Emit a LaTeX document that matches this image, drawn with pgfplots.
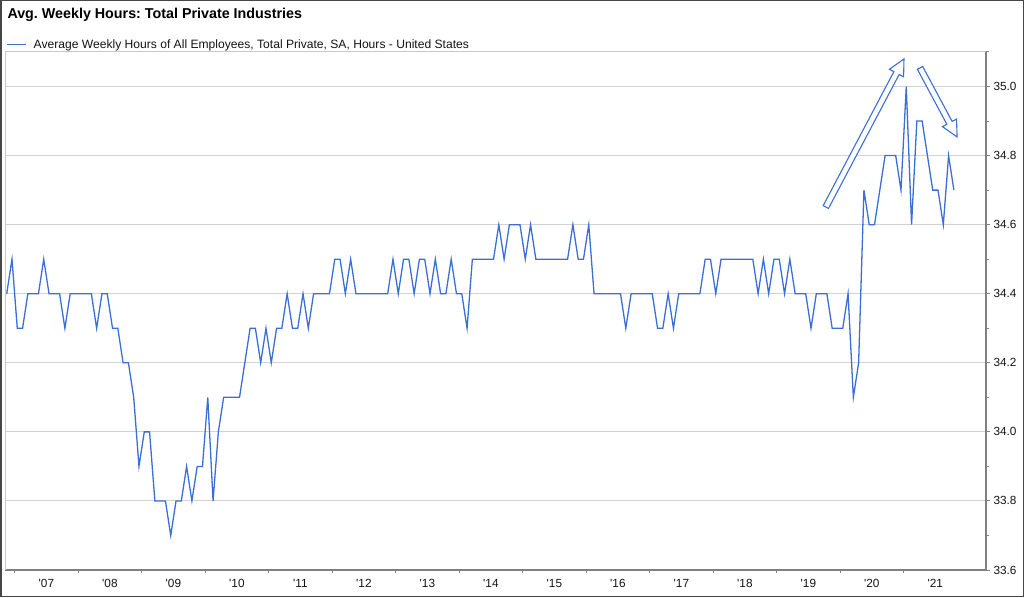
\documentclass[border=0pt]{standalone}
\usepackage{pgfplots}
\pgfplotsset{compat=1.18}
\usepackage{fontspec}
\setmainfont{Liberation Sans}
\frenchspacing
\usetikzlibrary{calc}
\definecolor{lineblue}{RGB}{60,110,215}
\definecolor{gridgray}{RGB}{210,210,210}
\definecolor{axisgray}{RGB}{128,128,128}
\definecolor{framegray}{RGB}{70,70,70}
\definecolor{bordergray}{RGB}{200,200,200}
\definecolor{textgray}{RGB}{20,20,20}
\newcommand{\hollowarrow}[2]{%
  \coordinate (B) at ($(#2)!16pt!(#1)$);
  \draw[lineblue, line width=1.1pt, fill=white, line join=miter]
    ($(#1)!3pt!90:(#2)$) -- ($(B)!3pt!90:(#2)$) -- ($(B)!8pt!90:(#2)$) -- (#2)
    -- ($(B)!8pt!-90:(#2)$) -- ($(B)!3pt!-90:(#2)$) -- ($(#1)!3pt!-90:(#2)$) -- cycle;
}
\begin{document}
\begin{tikzpicture}
\useasboundingbox (0,0) rectangle (1024pt,597pt);
\begin{axis}[
  at={(5pt,27pt)}, anchor=south west,
  scale only axis, width=981pt, height=518pt,
  xmin=-2.32, xmax=183.07, ymin=33.6, ymax=35.1,
  axis x line*=bottom, axis y line*=right,
  axis line style={-, draw=axisgray, line width=1.2pt},
  tick align=outside,
  major tick length=4pt, minor tick length=3pt,
  tick style={draw=axisgray, line width=1pt},
  xtick={5.5,17.5,29.5,41.5,53.5,65.5,77.5,89.5,101.5,113.5,125.5,137.5,149.5,161.5,173.5},
  xticklabels={\textquotesingle07,\textquotesingle08,\textquotesingle09,\textquotesingle10,\textquotesingle11,\textquotesingle12,\textquotesingle13,\textquotesingle14,\textquotesingle15,\textquotesingle16,\textquotesingle17,\textquotesingle18,\textquotesingle19,\textquotesingle20,\textquotesingle21},
  major x tick style={draw=none},
  minor xtick={-0.5,11.5,23.5,35.5,47.5,59.5,71.5,83.5,95.5,107.5,119.5,131.5,143.5,155.5,167.5},
  ytick={33.6,33.8,34.0,34.2,34.4,34.6,34.8,35.0},
  minor ytick={33.7,33.9,34.1,34.3,34.5,34.7,34.9,35.1},
  yticklabel style={/pgf/number format/.cd, fixed, fixed zerofill, precision=1},
  xticklabel style={yshift=-1.5pt},
  /pgf/number format/assume math mode=true,
  ymajorgrids,
  major grid style={draw=gridgray, line width=1pt},
  tick label style={font=\fontsize{11.8}{14}\selectfont, text=textgray},
  legend style={at={(axis description cs:0,1)}, anchor=south west, draw=none, fill=none,
    inner sep=0pt, outer sep=0pt, font=\fontsize{12.1}{14}\selectfont, text=textgray,
    legend cell align=left, xshift=1.5pt, yshift=0pt},
  legend image code/.code={\draw[#1, line width=1pt] (0pt,0pt) -- (19pt,0pt); \path (24pt,0pt);},
]
\addplot[lineblue, line width=1.3pt, mark=none] coordinates {
(-2,34.4) (-1,34.5) (0,34.3) (1,34.3) (2,34.4) (3,34.4) (4,34.4) (5,34.5) (6,34.4) (7,34.4)
(8,34.4) (9,34.3) (10,34.4) (11,34.4) (12,34.4) (13,34.4) (14,34.4) (15,34.3) (16,34.4) (17,34.4)
(18,34.3) (19,34.3) (20,34.2) (21,34.2) (22,34.1) (23,33.9) (24,34.0) (25,34.0) (26,33.8) (27,33.8)
(28,33.8) (29,33.7) (30,33.8) (31,33.8) (32,33.9) (33,33.8) (34,33.9) (35,33.9) (36,34.1) (37,33.8)
(38,34.0) (39,34.1) (40,34.1) (41,34.1) (42,34.1) (43,34.2) (44,34.3) (45,34.3) (46,34.2) (47,34.3)
(48,34.2) (49,34.3) (50,34.3) (51,34.4) (52,34.3) (53,34.3) (54,34.4) (55,34.3) (56,34.4) (57,34.4)
(58,34.4) (59,34.4) (60,34.5) (61,34.5) (62,34.4) (63,34.5) (64,34.4) (65,34.4) (66,34.4) (67,34.4)
(68,34.4) (69,34.4) (70,34.4) (71,34.5) (72,34.4) (73,34.5) (74,34.5) (75,34.4) (76,34.5) (77,34.5)
(78,34.4) (79,34.5) (80,34.4) (81,34.4) (82,34.5) (83,34.4) (84,34.4) (85,34.3) (86,34.5) (87,34.5)
(88,34.5) (89,34.5) (90,34.5) (91,34.6) (92,34.5) (93,34.6) (94,34.6) (95,34.6) (96,34.5) (97,34.6)
(98,34.5) (99,34.5) (100,34.5) (101,34.5) (102,34.5) (103,34.5) (104,34.5) (105,34.6) (106,34.5) (107,34.5)
(108,34.6) (109,34.4) (110,34.4) (111,34.4) (112,34.4) (113,34.4) (114,34.4) (115,34.3) (116,34.4) (117,34.4)
(118,34.4) (119,34.4) (120,34.4) (121,34.3) (122,34.3) (123,34.4) (124,34.3) (125,34.4) (126,34.4) (127,34.4)
(128,34.4) (129,34.4) (130,34.5) (131,34.5) (132,34.4) (133,34.5) (134,34.5) (135,34.5) (136,34.5) (137,34.5)
(138,34.5) (139,34.5) (140,34.4) (141,34.5) (142,34.4) (143,34.5) (144,34.5) (145,34.4) (146,34.5) (147,34.4)
(148,34.4) (149,34.4) (150,34.3) (151,34.4) (152,34.4) (153,34.4) (154,34.3) (155,34.3) (156,34.3) (157,34.4)
(158,34.1) (159,34.2) (160,34.7) (161,34.6) (162,34.6) (163,34.7) (164,34.8) (165,34.8) (166,34.8) (167,34.7)
(168,35.0) (169,34.6) (170,34.9) (171,34.9) (172,34.8) (173,34.7) (174,34.7) (175,34.6) (176,34.8) (177,34.7)
};
\addlegendentry{Average Weekly Hours of All Employees, Total Private, SA, Hours - United States}
\draw[bordergray, line width=1pt] (rel axis cs:0,0) -- (rel axis cs:0,1) -- (rel axis cs:1,1);
\coordinate (T1) at (axis cs:152.8,34.651);
\coordinate (P1) at (axis cs:167.57,35.080);
\coordinate (T2) at (axis cs:170.6,35.054);
\coordinate (P2) at (axis cs:177.6,34.854);
\end{axis}
\hollowarrow{T1}{P1}
\hollowarrow{T2}{P2}
\node[anchor=base west, inner sep=0pt, font=\fontsize{14.3}{17}\selectfont\bfseries, text=black] at (7.3pt,578pt) {Avg. Weekly Hours: Total Private Industries};
\draw[framegray, line width=1.5pt] (0.75pt,0.75pt) rectangle (1023.25pt,596.25pt);
\end{tikzpicture}
\end{document}
